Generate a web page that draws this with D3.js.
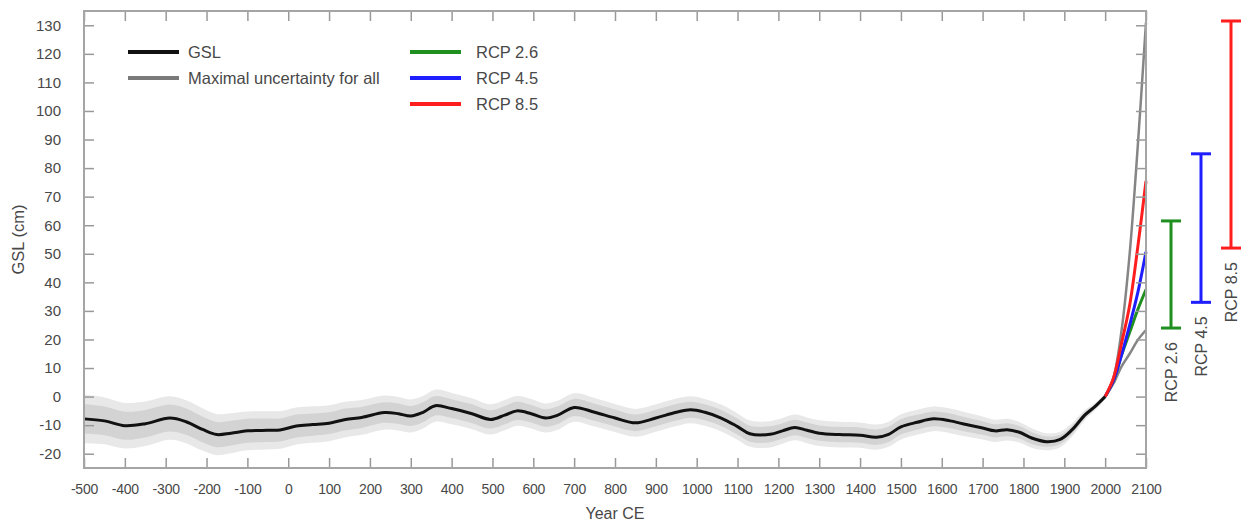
<!DOCTYPE html>
<html>
  <head>
    <meta charset="utf-8" />
    <title>GSL reconstruction and projections</title>
    <style>
      body {
        margin: 0;
        background: #fff;
      }
      text {
        font-family: "Liberation Sans", Arial, sans-serif;
        fill: #484848;
      }
      .tick line {
        stroke: #999;
        stroke-width: 1.5;
      }
      .tick text {
        fill: #484848;
      }
      .xaxis .tick text {
        font-size: 14px;
        letter-spacing: -0.2px;
      }
      .yaxis .tick text {
        font-size: 15px;
      }
    </style>
  </head>
  <body>
    <div id="chart"></div>

    <script src="https://d3js.org/d3.v7.min.js"></script>
    <script>
      // GSL reconstruction (year CE, cm)
      const gslYears = [-500, -450, -400, -350, -290, -250, -210, -175, -140, -100,
        -50, -20, 20, 60, 100, 140, 180, 235, 270, 300,
        330, 360, 400, 450, 495, 530, 560, 595, 630, 660,
        700, 750, 800, 850, 900, 950, 985, 1020, 1060, 1100,
        1130, 1180, 1210, 1240, 1270, 1300, 1350, 1400, 1440, 1470,
        1500, 1540, 1580, 1620, 1660, 1700, 1730, 1760, 1790, 1820,
        1856, 1890, 1920, 1950, 1975, 2000];
      const gslValues = [-7.8, -8.5, -10.2, -9.5, -7.5, -8.8, -11.5, -13.3, -12.8, -12,
        -11.8, -11.7, -10.3, -9.8, -9.3, -8, -7.3, -5.6, -6, -6.8,
        -5.5, -3.2, -4.2, -6, -8, -6.5, -5, -6, -7.5, -6.5,
        -3.8, -5.5, -7.5, -9.2, -7.5, -5.5, -4.6, -5.5, -7.5, -10.5,
        -13, -13.2, -12, -10.8, -11.8, -12.8, -13.3, -13.5, -14.2, -13.2,
        -10.6, -9, -7.8, -8.5, -9.8, -11, -12, -11.6, -12.5, -14.5,
        -15.8, -15, -11.5, -6.5, -3.5, 0];
      // half widths of the two grey bands
      const gslOuter = [8.5, 8.2, 8, 7.8, 7.6, 7.5, 7.4, 7.2, 7, 6.8,
        6.7, 6.6, 6.5, 6.4, 6.3, 6.2, 6.1, 6, 5.9, 5.8,
        5.7, 5.6, 5.5, 5.4, 5.3, 5.3, 5.2, 5.2, 5.1, 5.1,
        5, 5, 4.9, 4.9, 4.8, 4.8, 4.7, 4.7, 4.7, 4.6,
        4.6, 4.6, 4.5, 4.5, 4.5, 4.5, 4.5, 4.4, 4.4, 4.4,
        4.4, 4.4, 4.3, 4.3, 4.2, 4, 3.9, 3.8, 3.6, 3.4,
        3, 2.7, 2.3, 1.8, 1.3, 1];
      const gslInner = [5.2, 5, 4.9, 4.8, 4.7, 4.6, 4.5, 4.4, 4.3, 4.2,
        4.1, 4, 4, 3.9, 3.8, 3.8, 3.7, 3.6, 3.6, 3.5,
        3.5, 3.4, 3.3, 3.3, 3.2, 3.2, 3.2, 3.1, 3.1, 3.1,
        3, 3, 3, 2.9, 2.9, 2.9, 2.8, 2.8, 2.8, 2.8,
        2.8, 2.8, 2.7, 2.7, 2.7, 2.7, 2.7, 2.7, 2.7, 2.7,
        2.7, 2.6, 2.6, 2.6, 2.5, 2.4, 2.3, 2.3, 2.2, 2.1,
        1.8, 1.6, 1.4, 1.1, 0.8, 0.6];

      // projections 2000-2100
      const projYears = [2000, 2020, 2040, 2060, 2080, 2100];
      const maxUpper = [0, 6.5, 23, 50, 88, 131];
      const maxLower = [0, 4.5, 10.5, 15, 19.8, 23.3];
      const rcp26 = [0, 5.5, 14.5, 22.5, 30.5, 37.5];
      const rcp45 = [0, 5.5, 14.5, 25, 36.5, 50.7];
      const rcp85 = [0, 6.3, 18.6, 32, 52.5, 75.5];

      // likely ranges at 2100
      const rcpNames = ["RCP 2.6", "RCP 4.5", "RCP 8.5"];
      const rcpLow = [24, 33, 52];
      const rcpHigh = [61.5, 85, 131.5];
      const rcpColors = ["#1f8f1f", "#1e1eff", "#ff1e1e"];

      const xTicks = d3.range(-500, 2101, 100);
      const yTicks = d3.range(-20, 131, 10);

      const width = 1242,
        height = 522;
      const margin = { top: 11, right: 95, bottom: 54, left: 84 };
      const plotW = 1146 - margin.left,
        plotH = height - margin.top - margin.bottom;

      const svg = d3
        .select("#chart")
        .append("svg")
        .attr("width", width)
        .attr("height", height);

      const g = svg
        .append("g")
        .attr("transform", "translate(" + margin.left + "," + margin.top + ")");

      const x = d3.scaleLinear().domain([-500, 2100]).range([0, plotW]);
      const y = d3.scaleLinear().domain([-25, 135]).range([plotH, 0]);

      // uncertainty bands
      const idx = d3.range(gslYears.length);
      const area = (w) =>
        d3
          .area()
          .x((i) => x(gslYears[i]))
          .y0((i) => y(gslValues[i] - w[i]))
          .y1((i) => y(gslValues[i] + w[i]))
          .curve(d3.curveCatmullRom);

      g.append("path").datum(idx).attr("d", area(gslOuter)).attr("fill", "#e8e8e8");
      g.append("path").datum(idx).attr("d", area(gslInner)).attr("fill", "#d3d3d3");

      // projection lines
      const projLine = (vals) =>
        d3
          .line()
          .x((d, i) => x(projYears[i]))
          .y((d) => y(d))
          .curve(d3.curveCatmullRom)(vals);

      const projections = [
        { v: maxUpper, c: "#858585", w: 2.5 },
        { v: maxLower, c: "#858585", w: 2.5 },
        { v: rcp26, c: rcpColors[0], w: 3 },
        { v: rcp45, c: rcpColors[1], w: 3 },
        { v: rcp85, c: rcpColors[2], w: 3 },
      ];
      projections.forEach((p) => {
        g.append("path")
          .attr("d", projLine(p.v))
          .attr("fill", "none")
          .attr("stroke", p.c)
          .attr("stroke-width", p.w);
      });

      // GSL line
      g.append("path")
        .datum(idx)
        .attr(
          "d",
          d3
            .line()
            .x((i) => x(gslYears[i]))
            .y((i) => y(gslValues[i]))
            .curve(d3.curveCatmullRom)
        )
        .attr("fill", "none")
        .attr("stroke", "#111")
        .attr("stroke-width", 3);

      // axes (ticks point inwards), plain hyphen for negatives
      const fmt = (d) => String(d);

      g.append("g")
        .attr("class", "xaxis")
        .attr("transform", "translate(0," + plotH + ")")
        .call(d3.axisBottom(x).tickValues(xTicks).tickSize(-10).tickPadding(16).tickFormat(fmt))
        .call((a) => a.select(".domain").remove());

      g.append("g")
        .call(d3.axisTop(x).tickValues(xTicks).tickSize(-10).tickFormat(""))
        .call((a) => a.select(".domain").remove());

      g.append("g")
        .attr("class", "yaxis")
        .call(d3.axisLeft(y).tickValues(yTicks).tickSize(-10).tickPadding(23).tickFormat(fmt))
        .call((a) => a.select(".domain").remove());

      g.append("g")
        .attr("transform", "translate(" + plotW + ",0)")
        .call(d3.axisRight(y).tickValues(yTicks).tickSize(-10).tickFormat(""))
        .call((a) => a.select(".domain").remove());

      // frame
      g.append("rect")
        .attr("width", plotW)
        .attr("height", plotH)
        .attr("fill", "none")
        .attr("stroke", "#a5a5a5")
        .attr("stroke-width", 2);

      // axis titles
      svg.append("text")
        .attr("x", margin.left + plotW / 2)
        .attr("y", 519)
        .attr("text-anchor", "middle")
        .style("font-size", "16px")
        .text("Year CE");

      svg.append("text")
        .attr("transform", "translate(24," + (margin.top + plotH / 2) + ") rotate(-90)")
        .attr("text-anchor", "middle")
        .style("font-size", "16.5px")
        .text("GSL (cm)");

      // legend
      const legend = [
        { t: "GSL", c: "#111", lx: 128, ly: 52 },
        { t: "Maximal uncertainty for all", c: "#7a7a7a", lx: 128, ly: 78 },
        { t: rcpNames[0], c: rcpColors[0], lx: 410, ly: 52 },
        { t: rcpNames[1], c: rcpColors[1], lx: 410, ly: 78 },
        { t: rcpNames[2], c: rcpColors[2], lx: 410, ly: 104 },
      ];
      legend.forEach((l) => {
        svg.append("line")
          .attr("x1", l.lx)
          .attr("x2", l.lx + 51)
          .attr("y1", l.ly)
          .attr("y2", l.ly)
          .attr("stroke", l.c)
          .attr("stroke-width", 4);
        svg.append("text")
          .attr("x", l.lx + (l.lx > 200 ? 66 : 60))
          .attr("y", l.ly + 6)
          .style("font-size", "16.5px")
          .text(l.t);
      });

      // range bars to the right of the plot
      const bars = svg.append("g").attr("transform", "translate(0," + margin.top + ")");
      rcpNames.forEach((name, i) => {
        const bx = margin.left + plotW + 25 + i * 30;
        const b = bars.append("g").attr("stroke", rcpColors[i]).attr("stroke-width", 3);
        b.append("line").attr("x1", bx).attr("x2", bx).attr("y1", y(rcpLow[i])).attr("y2", y(rcpHigh[i]));
        b.append("line").attr("x1", bx - 10).attr("x2", bx + 10).attr("y1", y(rcpLow[i])).attr("y2", y(rcpLow[i]));
        b.append("line").attr("x1", bx - 10).attr("x2", bx + 10).attr("y1", y(rcpHigh[i])).attr("y2", y(rcpHigh[i]));
        bars.append("text")
          .attr("transform", "translate(" + (bx + 6) + "," + (y(rcpLow[i]) + 14) + ") rotate(-90)")
          .attr("text-anchor", "end")
          .style("font-size", "16px")
          .text(name);
      });
    </script>
  </body>
</html>
